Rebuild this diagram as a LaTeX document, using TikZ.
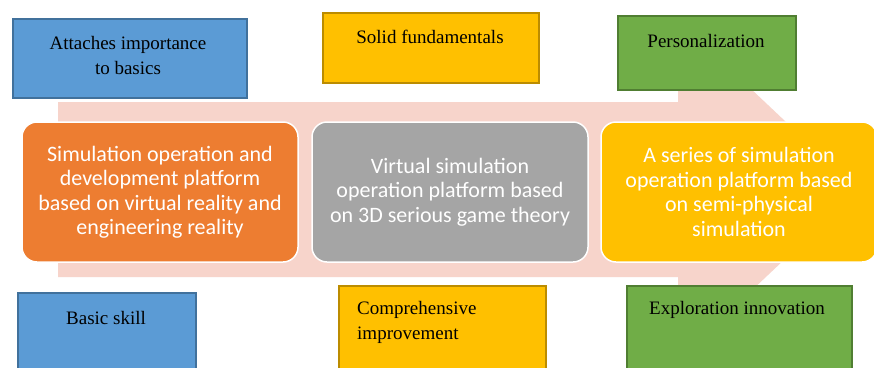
\documentclass[tikz,border=0pt]{standalone}
\usepackage{fontspec}
\setmainfont{Liberation Serif}
\newfontfamily\platfont{Carlito}
\definecolor{arrowpink}{HTML}{F7D4CB}
\definecolor{platorange}{HTML}{ED7D31}
\definecolor{platgray}{HTML}{A5A5A5}
\definecolor{platgold}{HTML}{FFC000}
\definecolor{tagblue}{HTML}{5B9BD5}
\definecolor{tagblueline}{HTML}{41719C}
\definecolor{taggold}{HTML}{FFC000}
\definecolor{taggoldline}{HTML}{BC8C00}
\definecolor{taggreen}{HTML}{70AD47}
\definecolor{taggreenline}{HTML}{507E32}
\tikzset{
  plat/.style={draw=white, line width=1.5pt, rounded corners=15pt,
    minimum height=140pt, inner sep=0pt, text=white, align=center,
    font=\platfont\fontsize{22}{24.5}\selectfont},
  tag/.style={line width=1.5pt, inner sep=0pt, anchor=north west},
  bluetag/.style={tag, fill=tagblue, draw=tagblueline},
  goldtag/.style={tag, fill=taggold, draw=taggoldline},
  greentag/.style={tag, fill=taggreen, draw=taggreenline},
  tagtext/.style={inner sep=0pt, align=center, text=black,
    font=\fontsize{19}{25}\selectfont}
}
\begin{document}
\begin{tikzpicture}[x=1pt,y=-1pt]
\clip (0,0) rectangle (874,367);
\fill[white] (0,0) rectangle (874,367);

% broad background arrow
\fill[arrowpink] (58,102) -- (678,102) -- (678,20) -- (858,190)
  -- (678,360) -- (678,277) -- (58,277) -- cycle;

% three platforms
\node[plat, fill=platorange, minimum width=276pt] (p1) at (160,192)
  {Simulation operation and\\development platform\\based on virtual reality and\\engineering reality};
\node[plat, fill=platgray, minimum width=276pt] (p2) at (450,192)
  {Virtual simulation\\operation platform based\\on 3D serious game theory};
\node[plat, fill=platgold, minimum width=276pt] (p3) at (739,192)
  {A series of simulation\\operation platform based\\on semi-physical\\simulation};

% upper tags
\node[bluetag, minimum width=234pt, minimum height=79pt] (u1) at (12,18) {};
\node[goldtag, minimum width=216pt, minimum height=70pt] (u2) at (322,12) {};
\node[greentag, minimum width=178pt, minimum height=74pt] (u3) at (617,15) {};
\node[tagtext] (ut1) at (128,55) {Attaches importance\\to basics};
\node[tagtext] (ut2) at (430,37) {Solid fundamentals};
\node[tagtext] (ut3) at (706,41) {Personalization};

% lower tags
\node[bluetag, minimum width=178pt, minimum height=90pt] (l1) at (17,292) {};
\node[goldtag, minimum width=207pt, minimum height=95pt] (l2) at (338,285) {};
\node[greentag, minimum width=225pt, minimum height=95pt] (l3) at (626,285) {};
\node[tagtext] (lt1) at (106,318) {Basic skill};
\node[tagtext, align=left, anchor=west] (lt2) at (357,322) {Comprehensive\\improvement};
\node[tagtext] (lt3) at (737,310) {Exploration innovation};
\end{tikzpicture}
\end{document}
